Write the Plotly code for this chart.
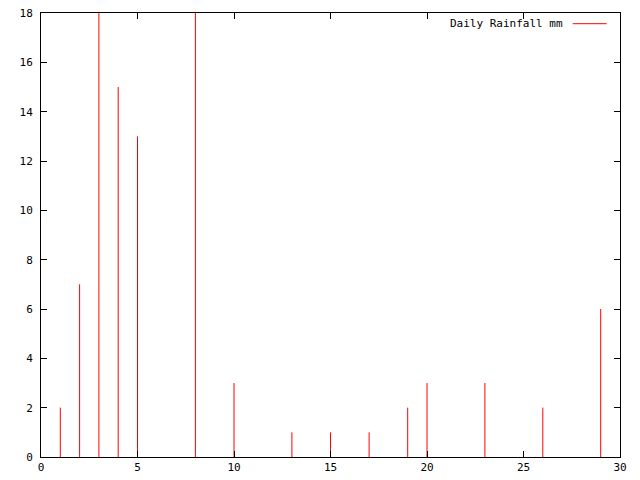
import plotly.graph_objects as go

days = [1, 2, 3, 4, 5, 8, 10, 13, 15, 17, 19, 20, 23, 26, 29]
rain_mm = [2, 7, 18, 15, 13, 18, 3, 1, 1, 1, 2, 3, 3, 2, 6]
x_ticks = [0, 5, 10, 15, 20, 25, 30]
y_ticks = [0, 2, 4, 6, 8, 10, 12, 14, 16, 18]
series_name = "Daily Rainfall mm"

xs, ys = [], []
for d, r in zip(days, rain_mm):
    xs += [d, d, None]
    ys += [0, r, None]

fig = go.Figure()
fig.add_trace(go.Scatter(x=xs, y=ys, mode="lines", line=dict(color="#ff0000", width=1),
                         name=series_name, showlegend=False, hoverinfo="skip"))

font = dict(family="DejaVu Sans Mono", size=11, color="black")
axis_common = dict(showgrid=False, zeroline=False, showline=True, linecolor="black", linewidth=1,
                   mirror="ticks", ticks="inside", ticklen=6, tickcolor="black", tickwidth=1,
                   tickfont=font, automargin=False, ticklabeloverflow="allow")
fig.update_xaxes(range=[0, 30], tickvals=x_ticks, ticktext=[str(v) for v in x_ticks], **axis_common)
fig.update_yaxes(range=[0, 18], tickvals=y_ticks, ticktext=[str(v) for v in y_ticks],
                 ticklabelstandoff=5, **axis_common)

# page has an 8px body margin; plot area in reference spans x 40.7..620.3, y 13.3..457.3
L, R, T, B = 40.7, 620.3, 13.3, 457.3
leg_y = 1 - (24 - T) / (B - T)
fig.add_annotation(xref="paper", yref="paper", x=(565.7 - L) / (R - L), y=leg_y,
                   text=series_name, showarrow=False, xanchor="right", yanchor="middle", font=font)
fig.add_shape(type="line", xref="paper", yref="paper",
              x0=(573 - L) / (R - L), x1=(607 - L) / (R - L), y0=leg_y, y1=leg_y,
              line=dict(color="#ff0000", width=1))

fig.update_layout(width=632, height=472, margin=dict(l=33, r=20, t=5, b=23),
                  plot_bgcolor="white", paper_bgcolor="white", showlegend=False, font=font)
fig.write_html("out.html")
